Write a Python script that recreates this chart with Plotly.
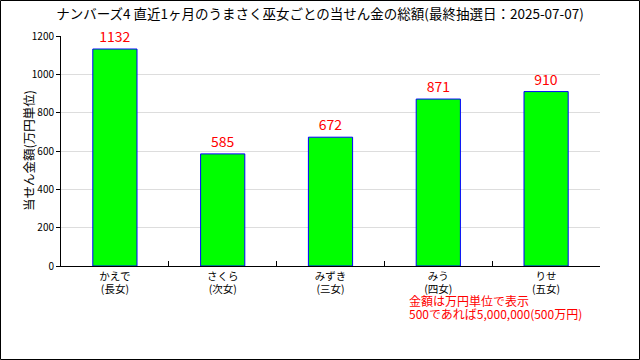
import plotly.graph_objects as go

categories = ["かえで<br>(長女)", "さくら<br>(次女)", "みずき<br>(三女)", "みう<br>(四女)", "りせ<br>(五女)"]
values = [1132, 585, 672, 871, 910]
title_text = "ナンバーズ4 直近1ヶ月のうまさく巫女ごとの当せん金の総額(最終抽選日：2025-07-07)"
ytitle = "当せん金額(万円単位)"
note_lines = ["金額は万円単位で表示", "500であれば5,000,000(500万円)"]

FONT = "Noto Sans CJK JP"
L, R, T, B = 61, 40, 36, 94
W, H = 640, 360
pw, ph = W - L - R, H - T - B

def px_x(x):
    return (x - L) / pw

def px_y(y):
    return (T + ph - y) / ph

fig = go.Figure(go.Bar(
    x=categories, y=values, width=0.41,
    marker=dict(color="#00ff00", line=dict(color="#0000ff", width=1)),
    text=[str(v) for v in values], textposition="outside",
    textfont=dict(color="#ff0000", size=14, family=FONT),
    cliponaxis=False,
))

fig.update_layout(
    width=W, height=H,
    margin=dict(l=L, r=R, t=T, b=B, autoexpand=False),
    paper_bgcolor="white", plot_bgcolor="white",
    font=dict(family=FONT, size=11, color="black"),
    showlegend=False,
    title=dict(text=title_text, x=0.5, xanchor="center", y=1 - 14 / H, yanchor="middle",
               yref="container", font=dict(size=13.5, family=FONT, color="black")),
    xaxis=dict(type="category", tickson="boundaries", ticks="inside", ticklen=5,
               tickcolor="black", showline=True, linecolor="black", linewidth=1,
               showgrid=False, automargin=False, tickfont=dict(size=10.5, family=FONT)),
    yaxis=dict(range=[0, 1200], dtick=200, ticks="outside", ticklen=4, tickcolor="black",
               showline=True, linecolor="black", linewidth=1, showgrid=True,
               gridcolor="#dddddd", zeroline=False, automargin=False,
               tickfont=dict(size=10, family=FONT)),
    bargap=0.59,
)

fig.add_annotation(text=ytitle, xref="paper", yref="paper", x=px_x(28), y=px_y(151),
                   xanchor="center", yanchor="middle", textangle=-90, showarrow=False,
                   font=dict(size=12.5, family=FONT, color="black"))

for i, line in enumerate(note_lines):
    fig.add_annotation(text=line, xref="paper", yref="paper",
                       x=px_x(407), y=px_y(300 + 13 * i), xanchor="left", yanchor="middle",
                       align="left", showarrow=False,
                       font=dict(color="#ff0000", size=12, family=FONT))

fig.add_shape(type="rect", xref="paper", yref="paper",
              x0=px_x(0.5), x1=px_x(W - 0.5), y0=px_y(H - 0.5), y1=px_y(0.5),
              line=dict(color="black", width=1), fillcolor="rgba(0,0,0,0)", layer="above")

fig.write_html("out.html", config={"displayModeBar": False},
               post_script="document.body.style.margin='0';")
